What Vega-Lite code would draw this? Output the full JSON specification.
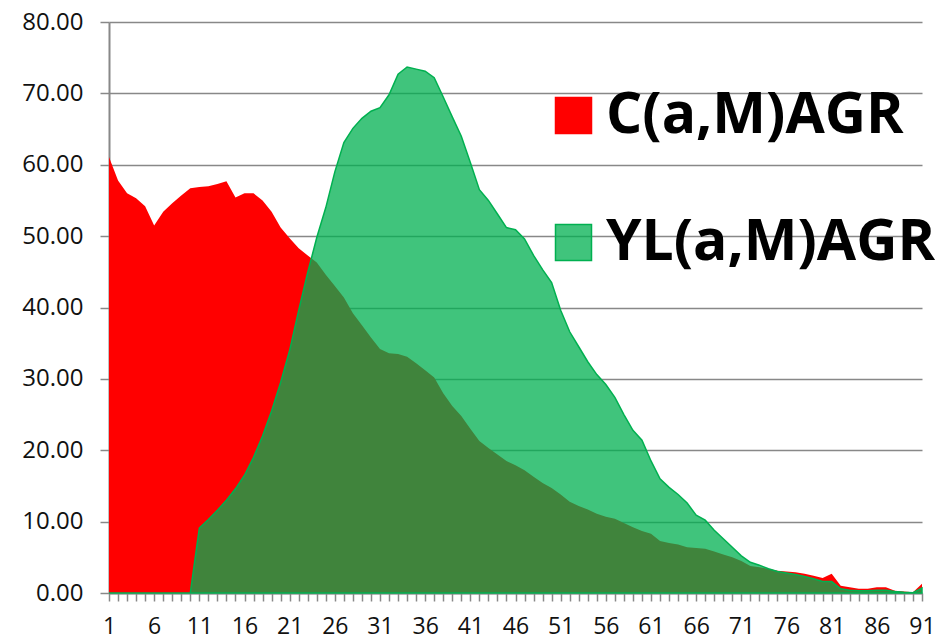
{
  "$schema": "https://vega.github.io/schema/vega-lite/v6.json",
  "width": 813,
  "height": 571,
  "autosize": {"type": "none"},
  "padding": {"left": 109, "top": 22, "right": 19, "bottom": 48},
  "config": {"view": {"stroke": null}, "font": "Open Sans"},
  "data": {"values": [
    {"x":1,"C":61.1,"YL":0},{"x":2,"C":57.8,"YL":0},{"x":3,"C":56.0,"YL":0},{"x":4,"C":55.3,"YL":0},{"x":5,"C":54.2,"YL":0},
    {"x":6,"C":51.5,"YL":0},{"x":7,"C":53.4,"YL":0},{"x":8,"C":54.6,"YL":0},{"x":9,"C":55.7,"YL":0},{"x":10,"C":56.7,"YL":0},
    {"x":11,"C":56.9,"YL":9.1},{"x":12,"C":57.0,"YL":10.3},{"x":13,"C":57.3,"YL":11.6},{"x":14,"C":57.7,"YL":13.0},{"x":15,"C":55.4,"YL":14.6},
    {"x":16,"C":56.0,"YL":16.5},{"x":17,"C":56.0,"YL":19.0},{"x":18,"C":55.0,"YL":22.0},{"x":19,"C":53.4,"YL":25.5},{"x":20,"C":51.2,"YL":29.5},
    {"x":21,"C":49.7,"YL":34.0},{"x":22,"C":48.3,"YL":39.6},{"x":23,"C":47.3,"YL":44.9},{"x":24,"C":46.3,"YL":49.8},{"x":25,"C":44.6,"YL":54.0},
    {"x":26,"C":43.0,"YL":59.0},{"x":27,"C":41.4,"YL":63.1},{"x":28,"C":39.2,"YL":65.1},{"x":29,"C":37.5,"YL":66.5},{"x":30,"C":35.8,"YL":67.5},
    {"x":31,"C":34.2,"YL":68.0},{"x":32,"C":33.6,"YL":69.8},{"x":33,"C":33.5,"YL":72.7},{"x":34,"C":33.1,"YL":73.7},{"x":35,"C":32.2,"YL":73.4},
    {"x":36,"C":31.2,"YL":73.1},{"x":37,"C":30.2,"YL":72.2},{"x":38,"C":28.0,"YL":69.5},{"x":39,"C":26.2,"YL":66.7},{"x":40,"C":24.8,"YL":64.0},
    {"x":41,"C":23.0,"YL":60.3},{"x":42,"C":21.3,"YL":56.5},{"x":43,"C":20.3,"YL":55.0},{"x":44,"C":19.4,"YL":53.1},{"x":45,"C":18.5,"YL":51.2},
    {"x":46,"C":17.9,"YL":50.9},{"x":47,"C":17.2,"YL":49.6},{"x":48,"C":16.3,"YL":47.3},{"x":49,"C":15.4,"YL":45.3},{"x":50,"C":14.7,"YL":43.5},
    {"x":51,"C":13.8,"YL":39.6},{"x":52,"C":12.8,"YL":36.6},{"x":53,"C":12.2,"YL":34.5},{"x":54,"C":11.7,"YL":32.4},{"x":55,"C":11.1,"YL":30.6},
    {"x":56,"C":10.7,"YL":29.2},{"x":57,"C":10.4,"YL":27.4},{"x":58,"C":9.8,"YL":25.0},{"x":59,"C":9.2,"YL":22.8},{"x":60,"C":8.7,"YL":21.4},
    {"x":61,"C":8.3,"YL":18.5},{"x":62,"C":7.3,"YL":16.0},{"x":63,"C":7.0,"YL":14.8},{"x":64,"C":6.8,"YL":13.8},{"x":65,"C":6.4,"YL":12.6},
    {"x":66,"C":6.3,"YL":10.9},{"x":67,"C":6.2,"YL":10.2},{"x":68,"C":5.8,"YL":8.8},{"x":69,"C":5.4,"YL":7.6},{"x":70,"C":5.0,"YL":6.4},
    {"x":71,"C":4.5,"YL":5.2},{"x":72,"C":3.8,"YL":4.3},{"x":73,"C":3.6,"YL":3.9},{"x":74,"C":3.4,"YL":3.4},{"x":75,"C":3.1,"YL":3.0},
    {"x":76,"C":3.0,"YL":2.8},{"x":77,"C":2.9,"YL":2.6},{"x":78,"C":2.7,"YL":2.3},{"x":79,"C":2.4,"YL":2.0},{"x":80,"C":2.1,"YL":1.6},
    {"x":81,"C":2.7,"YL":1.6},{"x":82,"C":1.0,"YL":0.6},{"x":83,"C":0.8,"YL":0.4},{"x":84,"C":0.6,"YL":0.3},{"x":85,"C":0.6,"YL":0.3},
    {"x":86,"C":0.8,"YL":0.4},{"x":87,"C":0.8,"YL":0.4},{"x":88,"C":0.3,"YL":0.2},{"x":89,"C":0.2,"YL":0.1},{"x":90,"C":0.1,"YL":0.05},
    {"x":91,"C":1.3,"YL":0.7}
  ]},
  "transform": [{"fold": ["C", "YL"], "as": ["series", "value"]}],
  "encoding": {
    "x": {
      "field": "x", "type": "quantitative",
      "scale": {"domain": [1, 91], "nice": false, "zero": false},
      "axis": {
        "values": [1,2,3,4,5,6,7,8,9,10,11,12,13,14,15,16,17,18,19,20,21,22,23,24,25,26,27,28,29,30,31,32,33,34,35,36,37,38,39,40,41,42,43,44,45,46,47,48,49,50,51,52,53,54,55,56,57,58,59,60,61,62,63,64,65,66,67,68,69,70,71,72,73,74,75,76,77,78,79,80,81,82,83,84,85,86,87,88,89,90,91],
        "labelExpr": "(datum.value - 1) % 5 == 0 ? datum.value : ''",
        "title": null, "grid": false, "tickSize": 8, "tickColor": "#888888", "tickWidth": 1.5,
        "domainColor": "#888888", "domainWidth": 2, "labelFontSize": 23, "labelColor": "#111111",
        "labelPadding": 14, "labelFlush": false, "labelOverlap": false
      }
    },
    "y": {
      "field": "value", "type": "quantitative", "stack": null,
      "scale": {"domain": [0, 80], "nice": false},
      "axis": {
        "values": [0,10,20,30,40,50,60,70,80], "format": ".2f", "title": null,
        "tickSize": 9, "tickColor": "#888888", "tickWidth": 1.5, "domainColor": "#888888", "domainWidth": 2,
        "gridColor": "#888888", "gridWidth": 1.5, "labelFontSize": 24, "labelColor": "#111111", "labelPadding": 17
      }
    },
    "fill": {
      "field": "series", "type": "nominal",
      "scale": {"domain": ["C", "YL"], "range": ["#FF0000", "rgba(0,176,80,0.75)"]},
      "legend": {"orient": "none", "legendX": 436, "legendY": 65, "title": null, "padding": 0,
        "symbolType": "square", "symbolSize": 1296, "symbolStrokeWidth": 1.5,
        "labelFontSize": 57, "labelFontWeight": "bold", "labelFont": "Open Sans", "labelColor": "#000000",
        "rowPadding": 69, "labelOffset": 4, "labelLimit": 600,
        "labelExpr": "datum.label == 'C' ? 'C(a,M)AGR' : 'YL(a,M)AGR'"}
    },
    "stroke": {
      "field": "series", "type": "nominal",
      "scale": {"domain": ["C", "YL"], "range": ["#FF0000", "#00B050"]},
      "legend": {"orient": "none", "legendX": 436, "legendY": 65, "title": null, "padding": 0,
        "symbolType": "square", "symbolSize": 1296, "symbolStrokeWidth": 1.5,
        "labelFontSize": 57, "labelFontWeight": "bold", "labelFont": "Open Sans", "labelColor": "#000000",
        "rowPadding": 69, "labelOffset": 4, "labelLimit": 600,
        "labelExpr": "datum.label == 'C' ? 'C(a,M)AGR' : 'YL(a,M)AGR'"}
    }
  },
  "layer": [
    {"transform": [{"filter": "datum.series == 'C'"}], "mark": {"type": "area", "strokeWidth": 0}},
    {"transform": [{"filter": "datum.series == 'YL'"}], "mark": {"type": "area", "strokeWidth": 1.5}}
  ]
}
